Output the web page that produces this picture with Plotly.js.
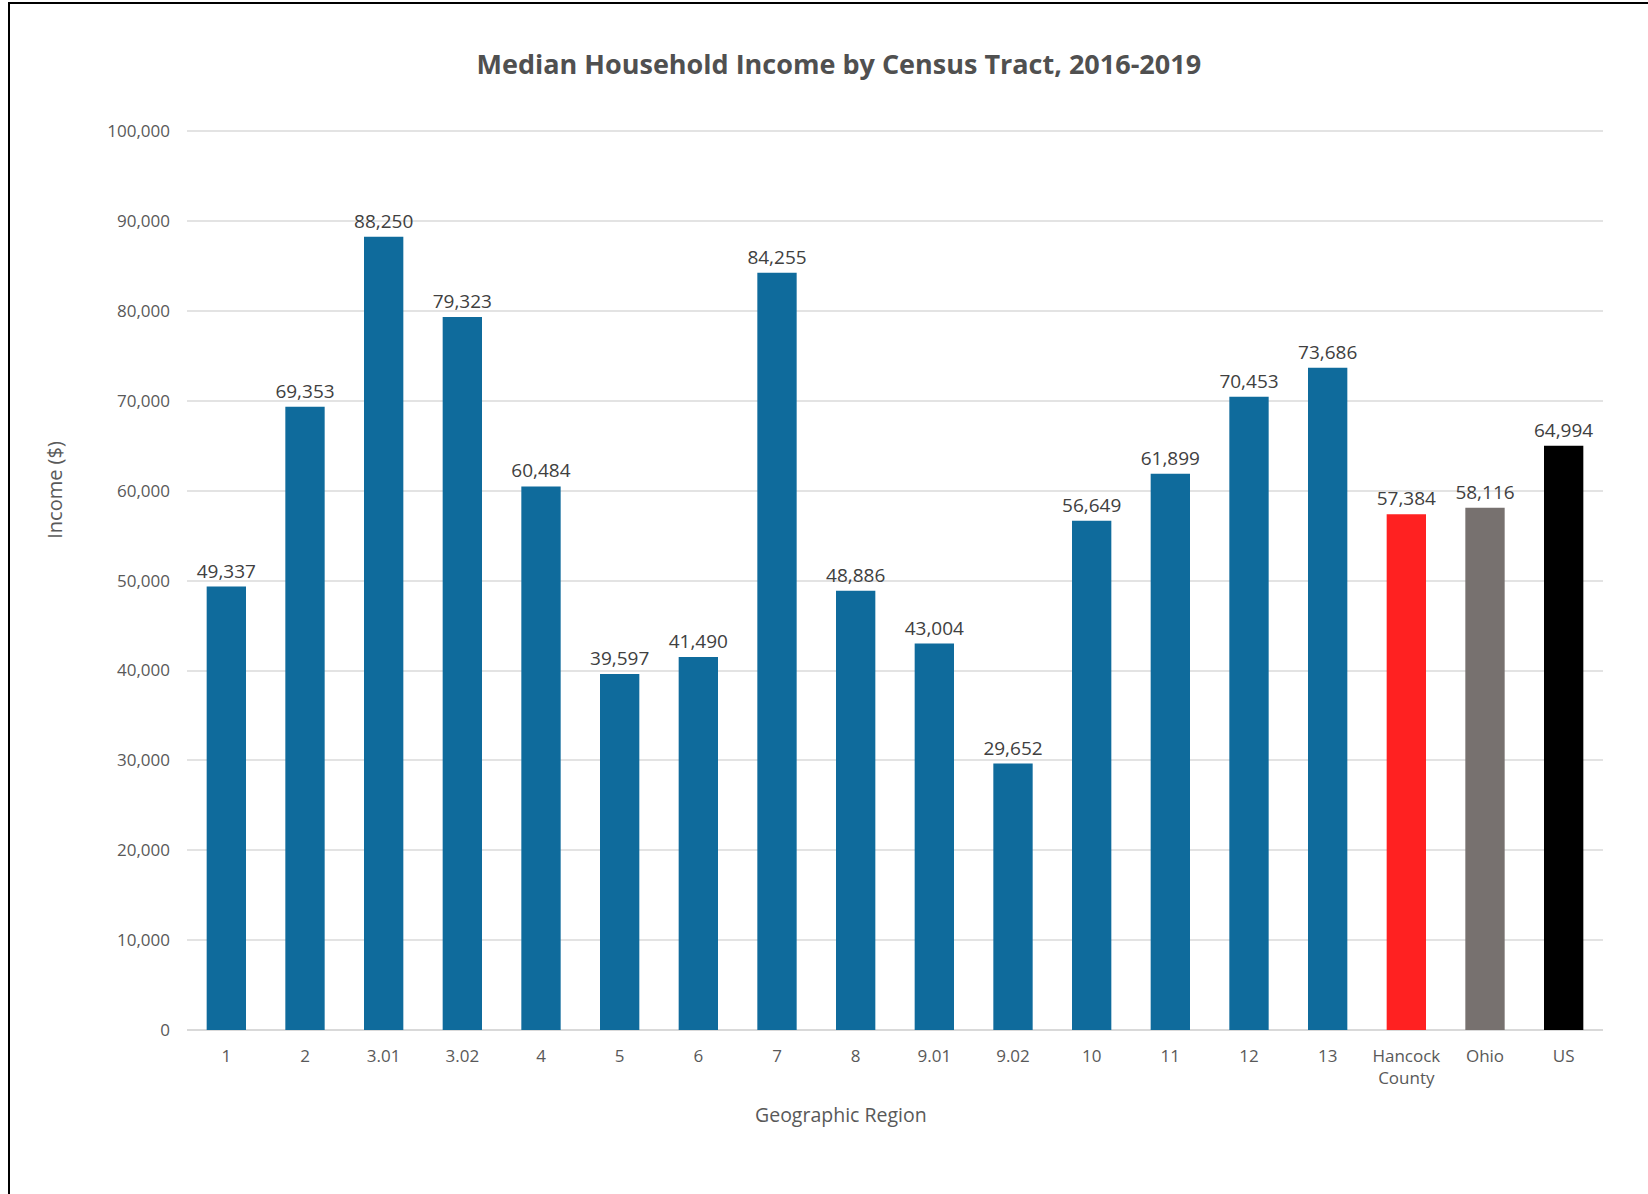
<!DOCTYPE html>
<html>
<head>
<meta charset="utf-8">
<script src="https://cdn.plot.ly/plotly-3.0.1.min.js"></script>
<style>
  html, body { margin: 0; padding: 0; background: #ffffff; }
  #chart { position: absolute; left: 0; top: 0; width: 1648px; height: 1194px; }
  #frame { position: absolute; left: 8px; top: 2px; width: 1640px; height: 1192px;
           border-left: 2px solid #000; border-top: 2px solid #000; pointer-events: none; box-sizing: border-box; }
</style>
</head>
<body>
<div id="chart"></div>
<div id="frame"></div>
<script>
const categories = ["1", "2", "3.01", "3.02", "4", "5", "6", "7", "8", "9.01", "9.02", "10", "11", "12", "13", "Hancock<br>County", "Ohio", "US"];
const incomes = [49337, 69353, 88250, 79323, 60484, 39597, 41490, 84255, 48886, 43004, 29652, 56649, 61899, 70453, 73686, 57384, 58116, 64994];
const barColors = ["#0f6b9c", "#0f6b9c", "#0f6b9c", "#0f6b9c", "#0f6b9c", "#0f6b9c", "#0f6b9c", "#0f6b9c", "#0f6b9c", "#0f6b9c", "#0f6b9c", "#0f6b9c", "#0f6b9c", "#0f6b9c", "#0f6b9c", "#ff2121", "#77716f", "#000000"];
const yTickVals = [0, 10000, 20000, 30000, 40000, 50000, 60000, 70000, 80000, 90000, 100000];

const font = "Open Sans, Liberation Sans, sans-serif";

const trace = {
  type: "bar",
  x: categories,
  y: incomes,
  marker: { color: barColors },
  text: incomes.map(v => v.toLocaleString("en-US")),
  textposition: "outside",
  constraintext: "none",
  cliponaxis: false,
  textfont: { family: font, size: 19, color: "#404040" },
  hoverinfo: "x+y"
};

const layout = {
  width: 1648,
  height: 1194,
  paper_bgcolor: "#ffffff",
  plot_bgcolor: "#ffffff",
  margin: { l: 187, r: 45, t: 129, b: 164 },
  bargap: 0.5,
  showlegend: false,
  uniformtext: { mode: false },
  title: {
    text: "<b>Median Household Income by Census Tract, 2016-2019</b>",
    font: { family: font, size: 27, color: "#505050" },
    x: 0.509, xref: "container", xanchor: "center",
    y: 0.946, yref: "container", yanchor: "middle"
  },
  xaxis: {
    type: "category",
    showgrid: false,
    zeroline: false,
    showline: false,
    ticks: "",
    ticklabelstandoff: 14,
    tickfont: { family: font, size: 17, color: "#595959" }
  },
  yaxis: {
    range: [0, 100250],
    tickvals: yTickVals,
    tickformat: ",d",
    showgrid: true,
    gridcolor: "#e3e3e3",
    gridwidth: 1.5,
    zeroline: true,
    zerolinecolor: "#d9d9d9",
    zerolinewidth: 1.5,
    showline: false,
    ticks: "",
    ticklabelstandoff: 16,
    tickfont: { family: font, size: 17, color: "#595959" }
  },
  annotations: [
    {
      text: "Geographic Region",
      xref: "paper", yref: "paper",
      x: 0.462, y: -0.0934,
      xanchor: "center", yanchor: "middle",
      showarrow: false,
      font: { family: font, size: 19.5, color: "#595959" }
    },
    {
      text: "Income ($)",
      xref: "paper", yref: "paper",
      x: -0.0932, y: 0.5996,
      xanchor: "center", yanchor: "middle",
      textangle: -90,
      showarrow: false,
      font: { family: font, size: 20, color: "#595959" }
    }
  ]
};

Plotly.newPlot("chart", [trace], layout, { displayModeBar: false, responsive: false });
</script>
</body>
</html>
